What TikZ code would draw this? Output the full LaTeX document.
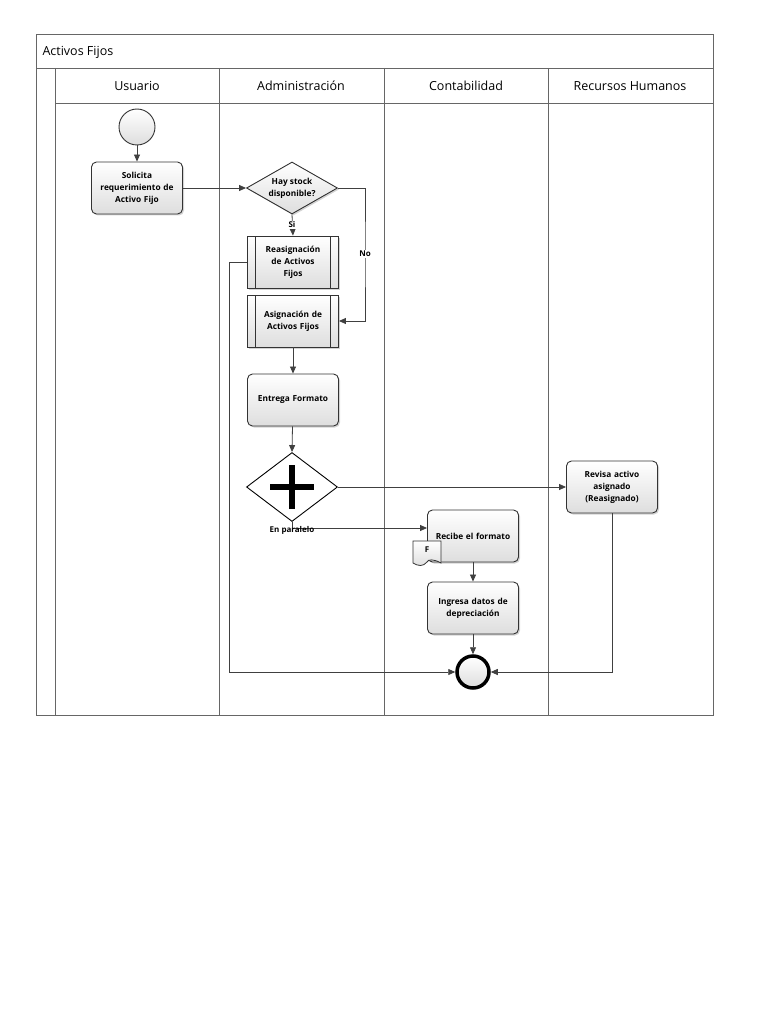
\documentclass[tikz,border=0pt]{standalone}
\usepackage{fontspec}
\setmainfont{Open Sans}
\usetikzlibrary{arrows.meta,shapes.geometric,shadows,positioning}

\tikzset{
  lane/.style={draw=black!60, line width=0.9pt},
  flow/.style={draw=black!75, line width=0.8pt, -{Triangle[length=7pt,width=6pt]}},
  shade/.style={top color=white, bottom color=black!13},
  shadowed/.style={drop shadow={opacity=0.35, shadow xshift=1.5pt, shadow yshift=-1.5pt}},
  task/.style={draw=black!80, line width=0.9pt, rounded corners=5pt,
    minimum width=91pt, minimum height=52pt, shade, shadowed, inner sep=1pt,
    font=\fontsize{8.3}{12}\selectfont\bfseries, align=center, text width=86pt},
  subproc/.style={task, rounded corners=0pt,
    path picture={
      \draw[black!80, line width=0.8pt] ([xshift=8pt]path picture bounding box.north west) -- ([xshift=8pt]path picture bounding box.south west);
      \draw[black!80, line width=0.8pt] ([xshift=-8pt]path picture bounding box.north east) -- ([xshift=-8pt]path picture bounding box.south east);
    }},
  decision/.style={diamond, draw=black!80, line width=0.9pt, shade, shadowed,
    minimum width=91pt, minimum height=52pt, aspect=1.75, inner sep=0pt,
    font=\fontsize{8.3}{12}\selectfont\bfseries, align=center},
  gateway/.style={diamond, draw=black, line width=0.9pt, fill=white,
    minimum width=91pt, minimum height=69pt, aspect=1.32, inner sep=0pt},
  startev/.style={circle, draw=black!80, line width=0.9pt, shade, minimum size=36pt, inner sep=0pt},
  endev/.style={circle, draw=black, line width=3.5pt, shade, minimum size=32pt, inner sep=0pt},
  lbl/.style={font=\fontsize{8}{9}\selectfont\bfseries, inner sep=1pt},
  head/.style={font=\fontsize{12.5}{14}\selectfont, text height=9pt, text depth=3pt}
}

\begin{document}
\begin{tikzpicture}[x=1pt,y=-1pt]
  \useasboundingbox (0,0) rectangle (768,1024);
  % swimlane frame
  \draw[lane] (36,34) rectangle (713,715);
  \draw[lane] (36,68) -- (713,68);
  \draw[lane] (55,103) -- (713,103);
  \draw[lane] (55,68) -- (55,715);
  \foreach \x in {219,384,548} \draw[lane] (\x,68) -- (\x,715);
  \node[head, anchor=west] (title) at (39,53) {Activos Fijos};
  \node[head] (h1) at (137,88) {Usuario};
  \node[head] (h2) at (301,88) {Administración};
  \node[head] (h3) at (466,88) {Contabilidad};
  \node[head] (h4) at (630,88) {Recursos Humanos};

  % flow objects
  \node[startev] (start) at (137,127) {};
  \node[task] (solic) at (137,188) {Solicita\\requerimiento de\\Activo Fijo};
  \node[decision] (stock) at (292,188) {Hay stock\\disponible?};
  \node[subproc] (reasig) at (293,262) {Reasignación\\de Activos\\Fijos};
  \node[subproc] (asig) at (293,321) {Asignación de\\Activos Fijos};
  \node[task] (entrega) at (293,400) {Entrega Formato};
  \node[gateway] (gate) at (292,487) {};
  \draw[line width=6pt] ([xshift=-22pt]gate.center) -- ([xshift=22pt]gate.center);
  \draw[line width=6pt] ([yshift=-22pt]gate.center) -- ([yshift=22pt]gate.center);
  \node[task] (revisa) at (612,487) {Revisa activo\\asignado\\(Reasignado)};
  \node[task] (recibe) at (473,536) {Recibe el formato};
  \node[task] (ingresa) at (473,608) {Ingresa datos de\\depreciación};
  \node[endev] (end) at (473,672) {};

  % document marker
  \draw[black!80, line width=0.8pt, shade] (413,541) -- (441,541) -- (441,563)
    .. controls (434,559) and (428,559) .. (427,562)
    .. controls (423,567) and (418,566) .. (413,563) -- cycle;
  \node[lbl] (doc) at (427,550) {F};

  % connectors
  \draw[flow] (start) -- (solic);
  \draw[flow] (solic) -- (stock.west);
  \draw[flow] (stock.south) -- (reasig.north);
  \node[lbl, fill=white] (si) at (292,225) {Si};
  \coordinate (noturn) at (365,254);
  \draw[flow] (stock.east) -| (noturn) |- (asig.east);
  \node[lbl, fill=white] (no) at (noturn) {No};
  \draw[flow] (asig) -- (entrega);
  \draw[flow] (entrega) -- (gate.north);
  \draw[flow] (gate.east) -- (revisa.west);
  \draw[flow] (gate.south) |- ([yshift=8pt]recibe.west);
  \node[lbl] (par) at (292,530) {En paralelo};
  \draw[flow] (recibe) -- (ingresa);
  \draw[flow] (ingresa) -- (end);
  \draw[flow] (reasig.west) -- ++(-18,0) |- (end.west);
  \draw[flow] (revisa.south) |- (end.east);
\end{tikzpicture}
\end{document}
